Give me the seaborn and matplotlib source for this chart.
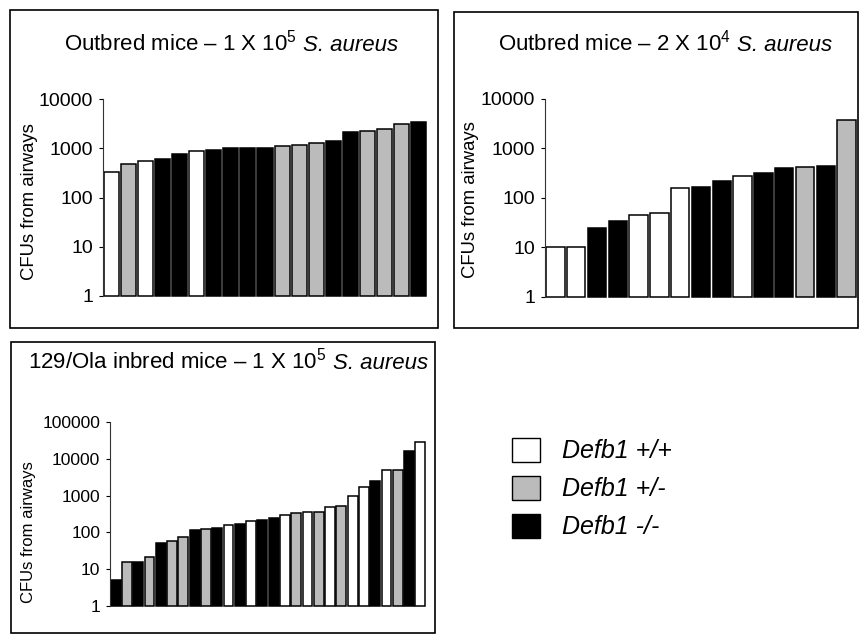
import numpy as np
import pandas as pd
import seaborn as sns
import matplotlib.pyplot as plt
from matplotlib.patches import Patch, Rectangle
from matplotlib.ticker import NullLocator

# genotype order and bar colours
genotypes = ["+/+", "+/-", "-/-"]
geno_colors = ["#ffffff", "#bbbbbb", "#000000"]

# Outbred mice, 1 X 10^5 S. aureus
outbred_hi_cfu = [335, 480, 550, 600, 760, 900, 910, 1000, 1000, 990,
                  1130, 1190, 1290, 1400, 2150, 2240, 2430, 3150, 3400]
outbred_hi_geno = ["+/+", "+/-", "+/+", "-/-", "-/-", "+/+", "-/-", "-/-", "-/-", "-/-",
                   "+/-", "+/-", "+/-", "-/-", "-/-", "+/-", "+/-", "+/-", "-/-"]

# Outbred mice, 2 X 10^4 S. aureus
outbred_lo_cfu = [10, 10, 25, 35, 45, 49, 162, 167, 217, 282, 314, 405, 430, 435, 3830]
outbred_lo_geno = ["+/+", "+/+", "-/-", "-/-", "+/+", "+/+", "+/+", "-/-", "-/-", "+/+",
                   "-/-", "-/-", "+/-", "-/-", "+/-"]

# 129/Ola inbred mice, 1 X 10^5 S. aureus
inbred_cfu = [5.2, 15.5, 15.7, 21, 51, 59, 76, 116, 121, 134, 156, 172, 204, 213,
              246, 292, 338, 367, 367, 492, 535, 980, 1700, 2470, 4950, 4950, 15800, 28500]
inbred_geno = ["-/-", "+/-", "-/-", "+/-", "-/-", "+/-", "+/-", "-/-", "+/-", "-/-",
               "+/+", "-/-", "+/+", "-/-", "-/-", "+/+", "+/-", "+/+", "+/-", "+/+",
               "+/-", "+/+", "+/+", "-/-", "+/+", "+/-", "-/-", "+/+"]

# titles: plain part (with superscript) + italic species name
title_plain = ["Outbred mice \u2013 1 X 10$^{5}$",
               "Outbred mice \u2013 2 X 10$^{4}$",
               "129/Ola inbred mice \u2013 1 X 10$^{5}$"]
title_species = "S. aureus"
ylabel = "CFUs from airways"
ticks_4 = [1, 10, 100, 1000, 10000]
ticks_5 = [1, 10, 100, 1000, 10000, 100000]

sns.set_style("white")
plt.rcParams["font.family"] = ["Liberation Sans", "DejaVu Sans"]
plt.rcParams["mathtext.fontset"] = "custom"
plt.rcParams["mathtext.rm"] = "Liberation Sans"
plt.rcParams["mathtext.it"] = "Liberation Sans:italic"
plt.rcParams["text.color"] = "black"
plt.rcParams["axes.labelcolor"] = "black"
plt.rcParams["ytick.color"] = "black"

W, H = 860, 635
fig = plt.figure(figsize=(8.6, 6.35), dpi=100)
palette = dict(zip(genotypes, geno_colors))


def frac(x0, y0, x1, y1):
    # pixel box (top-left origin) -> figure fraction [left, bottom, width, height]
    return [x0 / W, 1 - y1 / H, (x1 - x0) / W, (y1 - y0) / H]


def draw_panel(rect, cfu, geno, yticks, tick_fs, label_fs, label_xy):
    ax = fig.add_axes(rect)
    df = pd.DataFrame({"mouse": range(len(cfu)), "cfu": cfu, "genotype": geno})
    sns.barplot(data=df, x="mouse", y="cfu", hue="genotype", hue_order=genotypes,
                palette=palette, dodge=False, width=0.88, edgecolor="black",
                linewidth=1.1, legend=False, ax=ax)
    ax.set_yscale("log")
    # start the bars at the axis floor (1) so their bottom edge is drawn
    for p in ax.patches:
        top = p.get_y() + p.get_height()
        p.set_y(yticks[0])
        p.set_height(top - yticks[0])
        p.set_clip_on(False)
    ax.set_ylim(yticks[0], yticks[-1])
    ax.set_xlim(-0.5, len(cfu) - 0.5)
    ax.set_yticks(yticks)
    ax.set_yticklabels([str(v) for v in yticks], fontsize=tick_fs)
    ax.yaxis.set_minor_locator(NullLocator())
    ax.set_xticks([])
    ax.set_xlabel("")
    ax.set_ylabel(ylabel, fontsize=label_fs)
    ax.yaxis.set_label_coords(*label_xy)
    ax.tick_params(axis="y", left=True, length=3, width=0.8, pad=4, colors="black")
    for s in ["top", "right", "bottom"]:
        ax.spines[s].set_visible(False)
    ax.spines["left"].set_color("#333333")
    ax.spines["left"].set_linewidth(0.8)
    ax.patch.set_alpha(0)
    return ax


draw_panel(frac(103, 99, 427, 296), outbred_hi_cfu, outbred_hi_geno, ticks_4, 14, 13.3, (-0.202, 0.48))
draw_panel(frac(545, 99, 857, 297), outbred_lo_cfu, outbred_lo_geno, ticks_4, 14, 13.3, (-0.212, 0.49))
draw_panel(frac(110, 422, 426, 606), inbred_cfu, inbred_geno, ticks_5, 12.6, 12, (-0.234, 0.40))

# panel frames
for box in [(10, 10, 438, 328), (454, 12, 858, 328), (11, 342, 435, 633)]:
    l, b, w, h = frac(*box)
    fig.add_artist(Rectangle((l, b), w, h, transform=fig.transFigure,
                             fill=False, edgecolor="black", linewidth=1.2))

# panel titles: plain text followed by italic species, centred as a whole
renderer = fig.canvas.get_renderer()
gap = 6
for (cx, cy), t in zip([(231, 45), (665, 45), (228, 363)], title_plain):
    t1 = fig.text(0, 1 - cy / H, t, ha="left", va="baseline", fontsize=16)
    t2 = fig.text(0, 1 - cy / H, title_species, ha="left", va="baseline",
                  fontsize=16, fontstyle="italic")
    w1 = t1.get_window_extent(renderer).width
    w2 = t2.get_window_extent(renderer).width
    x0 = cx - (w1 + gap + w2) / 2
    base = 1 - (cy + 6) / H
    t1.set_position((x0 / W, base))
    t2.set_position(((x0 + w1 + gap) / W, base))

handles = [Patch(facecolor=c, edgecolor="black", linewidth=1.0) for c in geno_colors]
labels = ["Defb1 " + g for g in genotypes]
fig.legend(handles, labels, loc="upper left", bbox_to_anchor=(512 / W, 1 - 438 / H),
           frameon=False, prop={"size": 18, "style": "italic"},
           handlelength=1.1, handleheight=1.1,
           labelspacing=0.5, handletextpad=0.9, borderpad=0, borderaxespad=0)

fig.savefig("out.png", dpi=100)
